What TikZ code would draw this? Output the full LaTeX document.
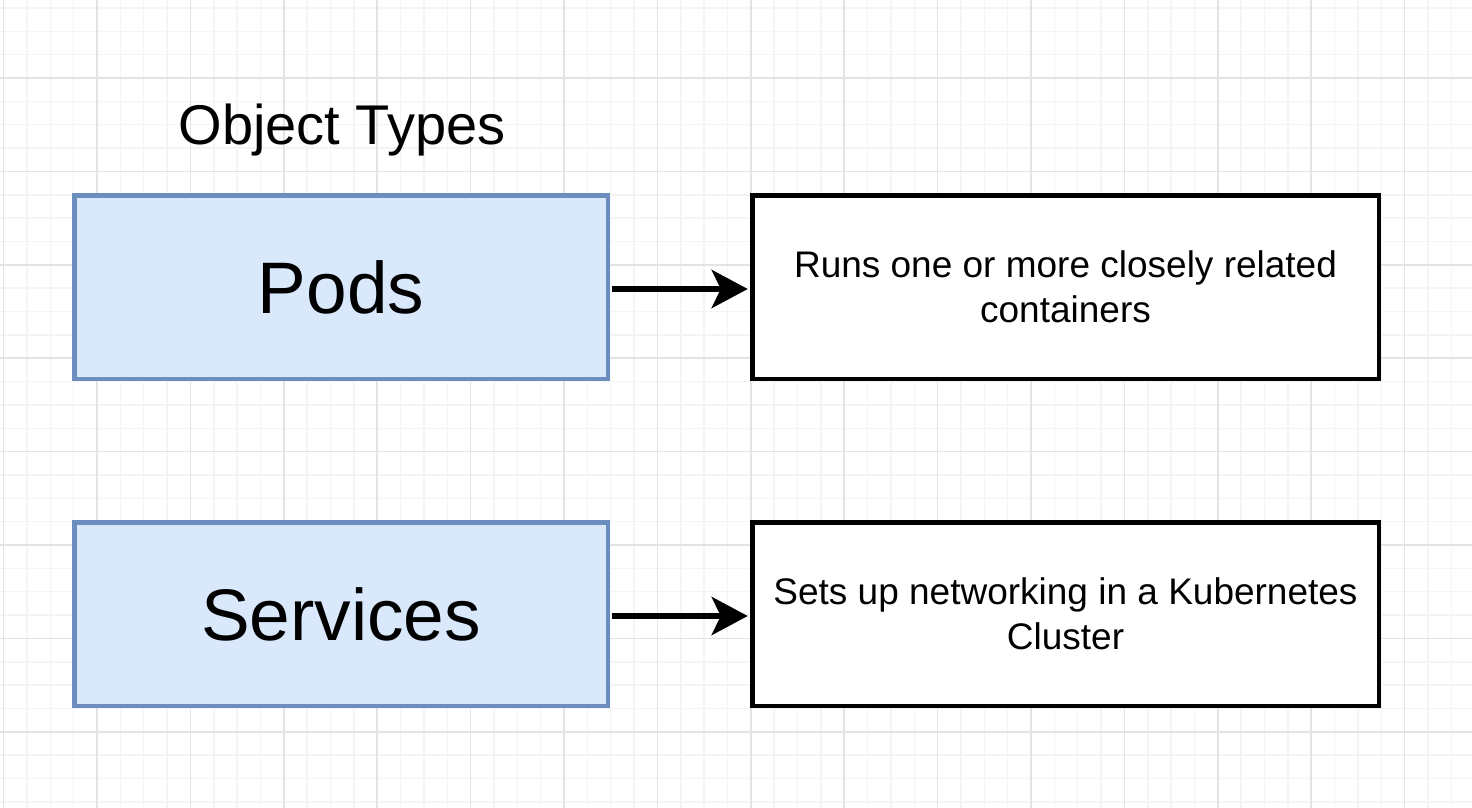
\documentclass[tikz,border=0pt]{standalone}
\usepackage{fontspec}
\setmainfont{Liberation Sans}
\usetikzlibrary{arrows.meta}
\definecolor{gridmajor}{HTML}{E3E3E3}
\definecolor{gridminor}{HTML}{F4F4F4}
\definecolor{podfill}{HTML}{DAE8FC}
\definecolor{podline}{HTML}{6C8EBF}
\tikzset{
  objbox/.style={draw=podline, fill=podfill, line width=4.5pt, minimum width=533.5pt, minimum height=183.5pt, inner sep=0pt, font=\fontsize{73}{88}\selectfont},
  descbox/.style={draw=black, fill=white, line width=4.5pt, minimum width=626.5pt, minimum height=183.5pt, inner sep=0pt, align=center, font=\fontsize{37}{45}\selectfont},
  link/.style={line width=6pt, -{Stealth[length=36pt,width=38pt,inset=9pt]}},
  titletext/.style={font=\fontsize{56}{67}\selectfont, inner sep=0pt}
}
\begin{document}
\begin{tikzpicture}[x=1pt,y=-1pt]
\useasboundingbox (0,0) rectangle (1472,808);
\fill[white] (0,0) rectangle (1472,808);
% minor grid
\foreach \k in {0,...,62} {\draw[gridminor, line width=1.5pt] ({3.6+23.35*\k},0) -- ({3.6+23.35*\k},808);}
\foreach \k in {0,...,34} {\draw[gridminor, line width=1.5pt] (0,{7.95+23.35*\k}) -- (1472,{7.95+23.35*\k});}
% major grid
\foreach \k in {0,...,15} {\draw[gridmajor, line width=1.5pt] ({3.6+93.4*\k},0) -- ({3.6+93.4*\k},808);}
\foreach \k in {0,...,7} {\draw[gridmajor, line width=1.5pt] (0,{78+93.4*\k}) -- (1472,{78+93.4*\k});}

\node[titletext, anchor=base] (title) at (342,144) {Object Types};

\node[objbox] (pods) at (341,287) {Pods};
\node[objbox] (services) at (341,614) {Services};

\node[descbox] (poddesc) at (1065.5,287) {Runs one or more closely related\\containers};
\node[descbox] (servdesc) at (1065.5,614) {Sets up networking in a Kubernetes\\Cluster};

\draw[link] ([xshift=2.25pt,yshift=-2pt]pods.east) -- ([xshift=-2.25pt,yshift=-2pt]poddesc.west);
\draw[link] ([xshift=2.25pt,yshift=-2pt]services.east) -- ([xshift=-2.25pt,yshift=-2pt]servdesc.west);
\end{tikzpicture}
\end{document}
